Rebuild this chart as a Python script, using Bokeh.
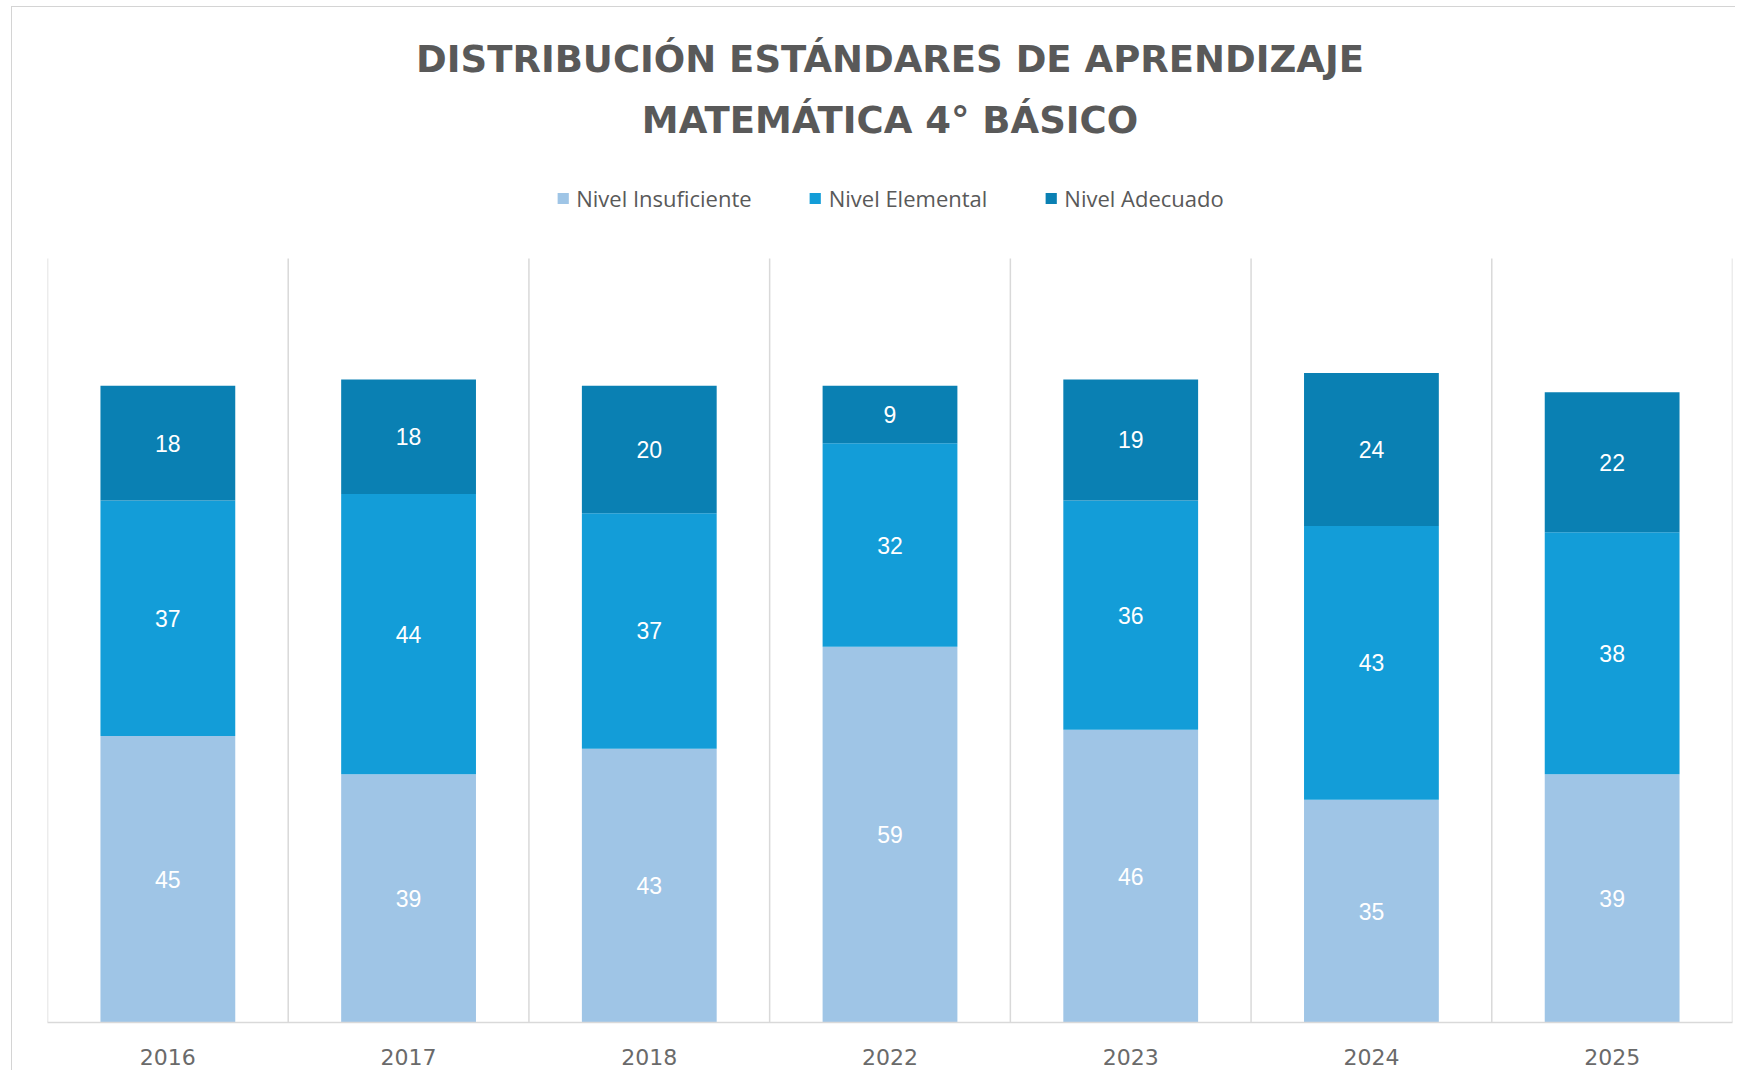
from bokeh.plotting import figure
from bokeh.models import (ColumnDataSource, FixedTicker, Legend, LegendItem, Label, LabelSet)
from bokeh.core.properties import value
from bokeh.embed import file_html
from bokeh.resources import INLINE

# ---- data ----
years = ["2016", "2017", "2018", "2022", "2023", "2024", "2025"]
insuficiente = [45, 39, 43, 59, 46, 35, 39]
elemental = [37, 44, 37, 32, 36, 43, 38]
adecuado = [18, 18, 20, 9, 19, 24, 22]
series_names = ["Nivel Insuficiente", "Nivel Elemental", "Nivel Adecuado"]
title_lines = ["DISTRIBUCIÓN ESTÁNDARES DE APRENDIZAJE", "MATEMÁTICA 4° BÁSICO"]

colors = ["#9FC5E6", "#139DD8", "#0A80B3"]

n = len(years)
xs = list(range(n))
b1 = [0] * n
t1 = [b + v for b, v in zip(b1, insuficiente)]
t2 = [b + v for b, v in zip(t1, elemental)]
t3 = [b + v for b, v in zip(t2, adecuado)]

src = ColumnDataSource(dict(
    x=xs, b1=b1, t1=t1, t2=t2, t3=t3,
    v1=[str(v) for v in insuficiente], v2=[str(v) for v in elemental], v3=[str(v) for v in adecuado],
    m1=[(a + b) / 2 for a, b in zip(b1, t1)],
    m2=[(a + b) / 2 for a, b in zip(t1, t2)],
    m3=[(a + b) / 2 for a, b in zip(t2, t3)],
))

# ---- layout constants (pixels) ----
FIG_W, FIG_H = 1724, 1064
BOTTOM = 49
FRAME_H = FIG_H - BOTTOM
CHART_TOP_PX = 251          # where value 120 sits, from canvas top
Y_CHART_MAX = 120
Y_MAX = Y_CHART_MAX * FRAME_H / (FRAME_H - CHART_TOP_PX)


def y_at(px):
    return (FRAME_H - px) / FRAME_H * Y_MAX


p = figure(width=FIG_W, height=FIG_H, output_backend="svg", toolbar_location=None,
           x_range=(-0.5, n - 0.5), y_range=(0, Y_MAX),
           min_border_left=35, min_border_right=4, min_border_bottom=BOTTOM, min_border_top=0)
p.title_location = None
p.margin = (6, 0, 0, 11)
p.styles = {"border-left": "1px solid #D4D4D4", "border-top": "1px solid #D4D4D4"}
p.outline_line_color = None
p.background_fill_color = "white"
p.border_fill_color = "white"
p.grid.visible = False

# category separators
sep = [i - 0.5 for i in range(n + 1)]
p.segment(x0=sep, y0=[0] * len(sep), x1=sep, y1=[Y_CHART_MAX] * len(sep),
          line_color="#D9D9D9", line_width=1.5)

w = 0.56
r1 = p.vbar(x="x", bottom="b1", top="t1", width=w, source=src, color=colors[0], line_color=None)
r2 = p.vbar(x="x", bottom="t1", top="t2", width=w, source=src, color=colors[1], line_color=None)
r3 = p.vbar(x="x", bottom="t2", top="t3", width=w, source=src, color=colors[2], line_color=None)

for m, v in (("m1", "v1"), ("m2", "v2"), ("m3", "v3")):
    p.add_layout(LabelSet(x="x", y=m, text=v, source=src, text_align="center",
                          text_baseline="middle", text_color="white",
                          text_font_size=value("23px"), text_font=value("Liberation Sans")))

p.yaxis.visible = False
p.xaxis.ticker = FixedTicker(ticks=xs)
p.xaxis.major_label_overrides = {i: y for i, y in enumerate(years)}
p.xaxis.major_tick_line_color = None
p.xaxis.minor_tick_line_color = None
p.xaxis.axis_line_color = "#D9D9D9"
p.xaxis.axis_line_width = 1.5
p.xaxis.major_label_text_font_size = "22px"
p.xaxis.major_label_text_color = "#6A6A6A"
p.xaxis.major_label_text_font = "DejaVu Sans"
p.xaxis.major_label_standoff = 20

# titles
for txt, px in zip(title_lines, (52, 113)):
    p.add_layout(Label(x=(n - 1) / 2, y=y_at(px), text=txt, text_align="center",
                       text_baseline="middle", text_font_size="37px",
                       text_font="DejaVu Sans", text_font_style="bold",
                       text_color="#595959"))

legend = Legend(items=[LegendItem(label=series_names[0], renderers=[r1]),
                       LegendItem(label=series_names[1], renderers=[r2]),
                       LegendItem(label=series_names[2], renderers=[r3])],
                orientation="horizontal", location="top_center",
                label_text_font_size="22px", label_text_color="#595959",
                label_text_font="Open Sans", glyph_width=14, glyph_height=14,
                spacing=56, label_standoff=7, padding=0, margin=176,
                border_line_color=None, background_fill_alpha=0)
p.add_layout(legend)

open("out.html", "w").write(file_html(p, INLINE))
